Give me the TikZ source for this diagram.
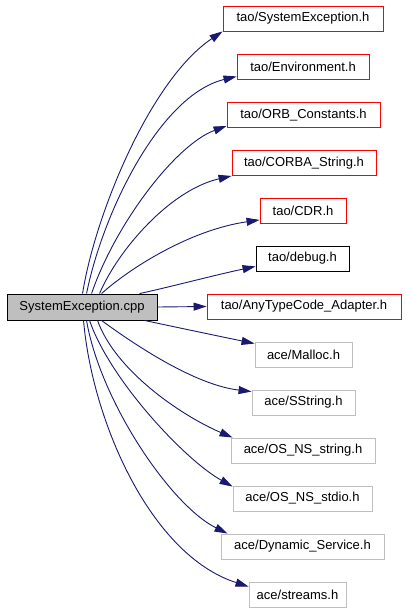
\documentclass[tikz,border=0pt]{standalone}
\usepackage{fontspec}
\setmainfont{Liberation Sans}
\usetikzlibrary{arrows.meta}
\definecolor{edgeblue}{HTML}{191970}
\definecolor{boxgrey}{HTML}{BFBFBF}
\begin{document}
\begin{tikzpicture}[x=1bp,y=-1bp,
  base/.style={draw, line width=0.9bp, inner sep=0pt, minimum height=25bp,
    font=\fontsize{13bp}{15bp}\selectfont, anchor=center},
  taobox/.style={base, draw=red},
  blackbox/.style={base, draw=black},
  acebox/.style={base, draw=boxgrey},
  mainbox/.style={base, draw=black, fill=boxgrey, minimum height=26bp},
  edge/.style={draw=edgeblue, line width=0.9bp,
    -{Triangle[length=13bp,width=8bp]}}
]
\useasboundingbox (0,0) rectangle (405,611);

\node[mainbox, minimum width=150bp] (main) at (82,307) {SystemException.cpp};

\node[taobox, minimum width=160bp] (n1) at (303,18.5) {tao/SystemException.h};
\node[taobox, minimum width=132bp] (n2) at (303,66.5) {tao/Environment.h};
\node[taobox, minimum width=153bp] (n3) at (303.5,115) {tao/ORB\_Constants.h};
\node[taobox, minimum width=144bp] (n4) at (304,163) {tao/CORBA\_String.h};
\node[taobox, minimum width=86bp] (n5) at (303,211) {tao/CDR.h};
\node[blackbox, minimum width=93bp] (n6) at (302.5,258.5) {tao/debug.h};
\node[taobox, minimum width=194bp] (n7) at (304,306.5) {tao/AnyTypeCode\_Adapter.h};
\node[acebox, minimum width=97bp] (n8) at (303.5,354.5) {ace/Malloc.h};
\node[acebox, minimum width=103bp] (n9) at (303.5,402.5) {ace/SString.h};
\node[acebox, minimum width=144bp] (n10) at (303,450.5) {ace/OS\_NS\_string.h};
\node[acebox, minimum width=139bp] (n11) at (302.5,498.5) {ace/OS\_NS\_stdio.h};
\node[acebox, minimum width=163bp] (n12) at (302.5,546.5) {ace/Dynamic\_Service.h};
\node[acebox, minimum width=97bp] (n13) at (297.5,594.5) {ace/streams.h};

% upper edges
\draw[edge] ([xshift=76bp]main.north west) .. controls (95,215) and (150,80) .. (n1.south west);
\draw[edge] ([xshift=80bp]main.north west) .. controls (103,212) and (160,95) .. ([yshift=3bp]n2.south west);
\draw[edge] ([xshift=85bp]main.north west) .. controls (115,225) and (175,145) .. ([yshift=2bp]n3.south west);
\draw[edge] ([xshift=93bp]main.north west) .. controls (118,250) and (170,190) .. (n4.south west);
\draw[edge] ([xshift=95bp]main.north west) .. controls (130,268) and (190,230) .. ([yshift=4bp]n5.south west);
\draw[edge] ([xshift=133bp]main.north west) .. controls (170,287) and (215,275) .. ([yshift=5bp]n6.south west);

% straight edge
\draw[edge] (main.east) -- (n7.west);

% lower edges
\draw[edge] ([xshift=138bp]main.south west) .. controls (175,327) and (218,336) .. ([yshift=-2bp]n8.north west);
\draw[edge] ([xshift=95bp]main.south west) .. controls (135,345) and (195,385) .. ([yshift=-2bp]n9.north west);
\draw[edge] ([xshift=91bp]main.south west) .. controls (115,370) and (180,415) .. ([xshift=2bp]n10.north west);
\draw[edge] ([xshift=83bp]main.south west) .. controls (110,380) and (185,460) .. ([yshift=-1bp]n11.north west);
\draw[edge] ([xshift=80bp]main.south west) .. controls (100,400) and (170,505) .. ([xshift=7bp]n12.north west);
\draw[edge] ([xshift=77bp]main.south west) .. controls (92,420) and (150,555) .. ([yshift=-5bp]n13.north west);
\end{tikzpicture}
\end{document}
